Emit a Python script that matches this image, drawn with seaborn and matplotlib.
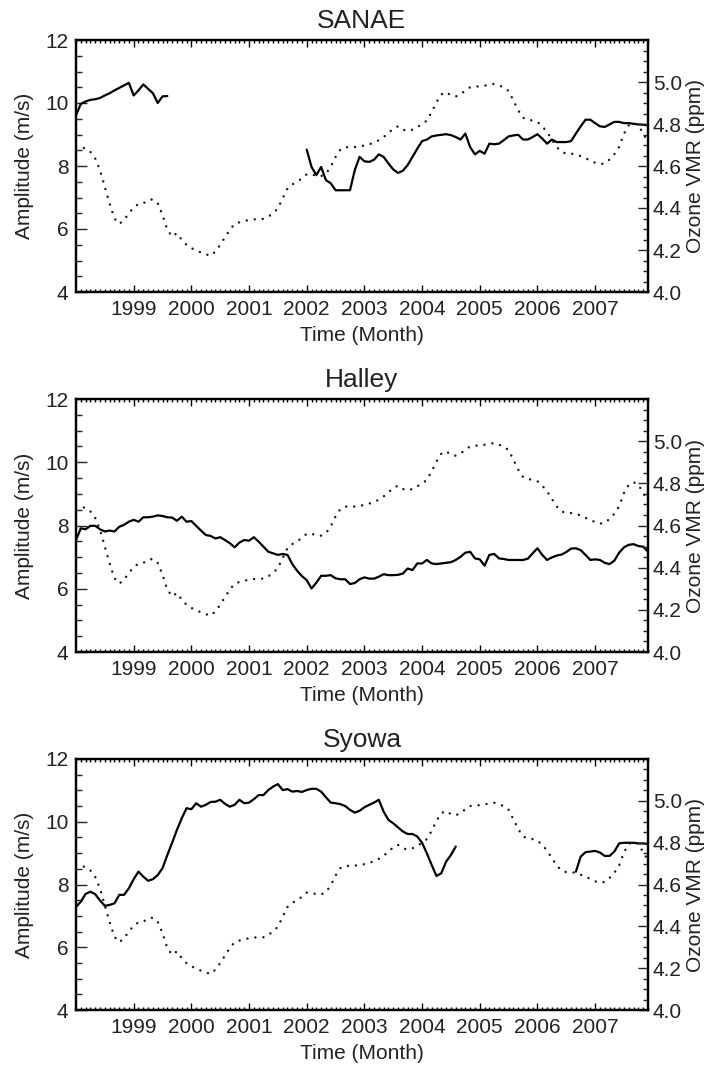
import numpy as np
import pandas as pd
import matplotlib
matplotlib.use("Agg")
import matplotlib.pyplot as plt
import seaborn as sns
from matplotlib.ticker import MultipleLocator, FixedLocator

# ---------------- data (monthly, Jan 1998 .. Dec 2007) ----------------
stations = ["SANAE", "Halley", "Syowa"]
start_year = 1998
year_ticks = [1999, 2000, 2001, 2002, 2003, 2004, 2005, 2006, 2007]
amp_ticks = [4, 6, 8, 10, 12]
ozone_ticks = [4.0, 4.2, 4.4, 4.6, 4.8, 5.0]

ozone = [4.694, 4.69, 4.683, 4.667, 4.636, 4.58, 4.50, 4.42, 4.35, 4.324,
         4.343, 4.375, 4.403, 4.419, 4.422, 4.438, 4.441, 4.422, 4.367, 4.296,
         4.264, 4.28, 4.248, 4.224, 4.209, 4.198, 4.188, 4.18, 4.172, 4.193,
         4.224, 4.261, 4.296, 4.324, 4.332, 4.338, 4.343, 4.346, 4.348, 4.348,
         4.359, 4.375, 4.398, 4.446, 4.493, 4.512, 4.525, 4.541, 4.561, 4.561,
         4.553, 4.552, 4.564, 4.596, 4.643, 4.678, 4.69, 4.688, 4.69, 4.694,
         4.697, 4.704, 4.71, 4.723, 4.738, 4.757, 4.778, 4.789, 4.773, 4.767,
         4.773, 4.786, 4.798, 4.817, 4.857, 4.904, 4.941, 4.952, 4.936, 4.931,
         4.941, 4.96, 4.975, 4.979, 4.979, 4.983, 4.987, 4.991, 4.983, 4.975,
         4.957, 4.912, 4.865, 4.83, 4.82, 4.817, 4.81, 4.789, 4.762, 4.726,
         4.691, 4.667, 4.659, 4.659, 4.656, 4.647, 4.636, 4.628, 4.615, 4.609,
         4.612, 4.631, 4.656, 4.691, 4.754, 4.794, 4.805, 4.794, 4.754, 4.715]

nan = float("nan")

sanae = ([9.61, 9.97, 10.05, 10.10, 10.12, 10.16, 10.24, 10.31, 10.40, 10.48,
          10.56, 10.64, 10.24, 10.40, 10.59, 10.45, 10.31, 10.0, 10.21, 10.22]
         + [nan] * 28 +
         [8.52, 7.97, 7.71, 7.97, 7.55, 7.45, 7.23, 7.23, 7.23, 7.23,
          7.87, 8.29, 8.15, 8.13, 8.20, 8.37, 8.29, 8.08, 7.89, 7.78,
          7.85, 8.03, 8.29, 8.55, 8.79, 8.84, 8.94, 8.97, 8.99, 9.01,
          8.98, 8.92, 8.84, 9.03, 8.60, 8.37, 8.48, 8.39, 8.71, 8.69,
          8.71, 8.82, 8.94, 8.97, 8.99, 8.84, 8.84, 8.92, 9.01, 8.87,
          8.71, 8.84, 8.76, 8.76, 8.76, 8.79, 9.03, 9.26, 9.47, 9.47,
          9.36, 9.26, 9.24, 9.32, 9.40, 9.40, 9.36, 9.36, 9.34, 9.32, 9.31, 9.29])

halley = [7.54, 7.91, 7.88, 7.99, 7.99, 7.88, 7.81, 7.84, 7.81, 7.96,
          8.02, 8.12, 8.18, 8.12, 8.26, 8.26, 8.28, 8.32, 8.30, 8.26,
          8.25, 8.15, 8.28, 8.12, 8.14, 7.99, 7.84, 7.70, 7.67, 7.59,
          7.63, 7.54, 7.44, 7.31, 7.46, 7.54, 7.52, 7.63, 7.49, 7.33,
          7.17, 7.12, 7.07, 7.10, 7.07, 6.78, 6.57, 6.40, 6.27, 6.01,
          6.19, 6.41, 6.41, 6.43, 6.33, 6.30, 6.30, 6.15, 6.18, 6.30,
          6.36, 6.32, 6.32, 6.38, 6.46, 6.43, 6.43, 6.44, 6.48, 6.64,
          6.59, 6.80, 6.80, 6.91, 6.80, 6.78, 6.80, 6.82, 6.84, 6.91,
          7.01, 7.14, 7.17, 6.96, 6.93, 6.73, 7.07, 7.10, 6.96, 6.94,
          6.91, 6.91, 6.91, 6.91, 6.95, 7.12, 7.28, 7.07, 6.91, 6.99,
          7.05, 7.08, 7.16, 7.27, 7.28, 7.22, 7.07, 6.91, 6.93, 6.91,
          6.82, 6.78, 6.89, 7.14, 7.31, 7.39, 7.41, 7.35, 7.33, 7.17]

syowa = ([7.29, 7.45, 7.70, 7.77, 7.69, 7.49, 7.32, 7.35, 7.40, 7.67,
          7.67, 7.88, 8.17, 8.41, 8.25, 8.12, 8.17, 8.30, 8.52, 8.94,
          9.33, 9.74, 10.11, 10.43, 10.40, 10.59, 10.48, 10.54, 10.63, 10.64,
          10.70, 10.57, 10.48, 10.54, 10.70, 10.59, 10.61, 10.72, 10.85, 10.85,
          11.01, 11.12, 11.20, 11.01, 11.04, 10.96, 10.98, 10.95, 11.01, 11.05,
          11.05, 10.96, 10.78, 10.61, 10.59, 10.56, 10.50, 10.38, 10.29, 10.35,
          10.46, 10.54, 10.61, 10.70, 10.32, 10.06, 9.95, 9.82, 9.69, 9.61,
          9.61, 9.53, 9.33, 8.99, 8.62, 8.27, 8.36, 8.73, 8.94, 9.21]
         + [nan] * 24 +
         [8.41, 8.89, 9.03, 9.05, 9.07, 9.02,
          8.91, 8.91, 9.05, 9.31, 9.33, 9.33, 9.33, 9.31, 9.31, 9.29])

amplitudes = [sanae, halley, syowa]

# ---------------- style ----------------
sns.set_style("ticks")
plt.rcParams["font.family"] = ["Liberation Sans", "DejaVu Sans"]
plt.rcParams["axes.linewidth"] = 1.5

W, H = 706, 1068
fig = plt.figure(figsize=(W / 100, H / 100), dpi=100)

left_px, right_px = 76, 648
panels_px = [(40, 292), (399, 652), (759, 1010)]

n = len(ozone)
years = start_year + np.arange(n) / 12.0
x_end = start_year + (n - 1) / 12.0


def segment_frame(values):
    df = pd.DataFrame({"year": years, "value": values})
    df["seg"] = df["value"].isna().cumsum()
    return df.dropna()


oz_df = segment_frame(ozone)

for name, amp, (top, bot) in zip(stations, amplitudes, panels_px):
    ax = fig.add_axes([left_px / W, 1 - bot / H, (right_px - left_px) / W, (bot - top) / H])
    ax2 = ax.twinx()

    amp_df = segment_frame(amp)
    sns.lineplot(data=amp_df, x="year", y="value", units="seg", estimator=None,
                 color="black", linewidth=1.6, ax=ax, legend=False)
    sns.lineplot(data=oz_df, x="year", y="value", units="seg", estimator=None,
                 color="#1a1a1a", linewidth=1.8, linestyle=(0, (0.01, 3.2)),
                 dash_capstyle="round", ax=ax2, legend=False)

    ax.set_xlim(start_year, x_end)
    ax.set_ylim(4, 12)
    ax2.set_ylim(4.0, 5.2)

    ax.xaxis.set_major_locator(FixedLocator(year_ticks))
    ax.set_xticklabels([str(y) for y in year_ticks])
    ax.xaxis.set_minor_locator(MultipleLocator(1 / 12))
    ax.yaxis.set_major_locator(FixedLocator(amp_ticks))
    ax.set_yticklabels([str(v) for v in amp_ticks])
    ax.yaxis.set_minor_locator(MultipleLocator(0.5))
    ax2.yaxis.set_major_locator(FixedLocator(ozone_ticks))
    ax2.set_yticklabels(["%.1f" % v for v in ozone_ticks])
    ax2.yaxis.set_minor_locator(MultipleLocator(0.05))

    ax.tick_params(axis="x", which="both", direction="in", top=True, bottom=True,
                   labelsize=15, pad=6, width=1, color="black", labelcolor="#222222")
    ax.tick_params(axis="x", which="major", length=5)
    ax.tick_params(axis="x", which="minor", length=2.5)
    ax.tick_params(axis="y", which="both", direction="in", left=True, right=False,
                   labelsize=15, pad=5.5, width=1, labelcolor="#222222")
    ax.tick_params(axis="y", which="major", length=8)
    ax.tick_params(axis="y", which="minor", length=4.3)
    ax2.tick_params(axis="y", which="both", direction="in", right=True, left=False,
                    labelsize=15, pad=3.5, width=1, labelcolor="#222222")
    ax2.tick_params(axis="y", which="major", length=7)
    ax2.tick_params(axis="y", which="minor", length=3.6)

    for a in (ax, ax2):
        for s in a.spines.values():
            s.set_visible(True)
            s.set_linewidth(1.6)
            s.set_color("black")

    ax.set_title(name, fontsize=19, pad=8.4, color="#222222")
    ax.set_xlabel("Time (Month)", fontsize=15, color="#222222")
    ax.xaxis.set_label_coords(0.5, -34 / (bot - top))
    ax.set_ylabel("Amplitude (m/s)", fontsize=15, color="#222222")
    ax.yaxis.set_label_coords(-42 / (right_px - left_px), 0.5)
    ax2.set_ylabel("Ozone VMR (ppm)", fontsize=15, color="#222222")
    ax2.yaxis.set_label_coords((686 - left_px) / (right_px - left_px), 0.5)

fig.savefig("out.png", dpi=100)
